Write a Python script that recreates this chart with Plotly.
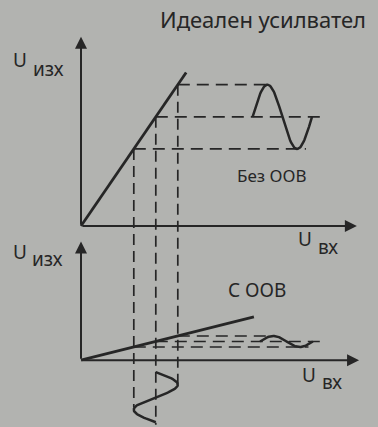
import numpy as np
import plotly.graph_objects as go

# Input signal levels (min, mid, max) on the U_вх axis
u_in = [1.2, 1.7, 2.2]
# Gain without feedback and with negative feedback (ООВ)
gain_open = 1.46
gain_fb = 0.25
# Distance from the upper graph's origin down to the lower one
panel_gap = 3.05

# Input value where each transfer line stops
line_end_open = 2.39
line_end_fb = 3.93

# Axis lengths [U_вх, U_изх] for each graph
axis_top = [6.27, 4.3]
axis_bottom = [6.32, 2.7]

# Output sine waves: start on the U_вх axis and period
wave_open = {"start": 3.9, "period": 1.35}
wave_fb = {"start": 4.07, "period": 1.2}
# Input sine wave, running downward under the lower graph
wave_in = {"start": -0.27, "period": 1.14}

# Text labels
title_text = "Идеален усилвател"
u_sym = "U"
out_sub = "изх"
in_sub = "вх"
label_open = "Без ООВ"
label_fb = "С ООВ"

INK = "#262626"
BG = "#b2b3b0"
FONT = "Noto Sans"

out_open = [gain_open * u for u in u_in]
out_fb = [-panel_gap + gain_fb * u for u in u_in]

fig = go.Figure()


def add_line(x, y, width=2.8, dash="solid"):
    fig.add_trace(go.Scatter(x=x, y=y, mode="lines",
                             line=dict(color=INK, width=width, dash=dash),
                             hoverinfo="skip"))


# Transfer characteristics
add_line([0, line_end_open], [0, gain_open * line_end_open])
add_line([0, line_end_fb], [-panel_gap, -panel_gap + gain_fb * line_end_fb])


def output_wave(levels, wave):
    mid = levels[1]
    amp = (levels[2] - levels[0]) / 2
    t = np.linspace(0, 1, 80)
    x = wave["start"] + wave["period"] * t
    y = mid + amp * np.sin(2 * np.pi * t)
    return x, y


def level_ends(wave):
    p, s = wave["period"], wave["start"]
    # low level, mid level, high level
    return [s + 0.75 * p + 0.2, s + p + 0.25, s + 0.25 * p]


# Projection lines from the transfer lines to the output waves
for levels, wave in ((out_open, wave_open), (out_fb, wave_fb)):
    ends = level_ends(wave)
    xs, ys = [], []
    for u, lvl, e in zip(u_in, levels, ends):
        xs += [u, e, None]
        ys += [lvl, lvl, None]
    add_line(xs, ys, width=1.7, dash="12px,7px")
    wx, wy = output_wave(levels, wave)
    add_line(wx, wy, width=2.5)

# Input wave: time runs downward, swinging between u_in[0] and u_in[2]
t = np.linspace(0, 1, 80)
in_amp = (u_in[2] - u_in[0]) / 2
in_x = u_in[1] + in_amp * np.sin(2 * np.pi * t)
in_y = -panel_gap + wave_in["start"] - wave_in["period"] * t
add_line(in_x, in_y, width=2.5)

# Vertical projection lines from the upper graph down to the input wave
in_low = [-panel_gap + wave_in["start"] - 0.7 * wave_in["period"],
          -panel_gap + wave_in["start"] - 1.05 * wave_in["period"],
          -panel_gap + wave_in["start"] - 0.25 * wave_in["period"]]
vx, vy = [], []
for u, top, bot in zip(u_in, out_open, in_low):
    vx += [u, u, None]
    vy += [top, bot, None]
add_line(vx, vy, width=1.7, dash="11px,6px")

annotations = []


def arrow(x0, y0, x1, y1):
    annotations.append(dict(x=x1, y=y1, ax=x0, ay=y0, xref="x", yref="y",
                            axref="x", ayref="y", text="", showarrow=True,
                            arrowhead=2, arrowsize=1.2, arrowwidth=2,
                            arrowcolor=INK))


# Axes of both graphs
arrow(0, 0, axis_top[0], 0)
arrow(0, 0, 0, axis_top[1])
arrow(0, -panel_gap, axis_bottom[0], -panel_gap)
arrow(0, -panel_gap, 0, -panel_gap + axis_bottom[1])


def label(text, x, y, size):
    annotations.append(dict(x=x, y=y, xref="x", yref="y", text=text,
                            showarrow=False, xanchor="center", yanchor="middle",
                            font=dict(family=FONT, size=size, color=INK)))


label(title_text, 4.13, 4.70, 22)
# U_изх of the upper graph
label(u_sym, -1.38, 3.77, 19)
label(out_sub, -0.73, 3.57, 19)
# U_вх of the upper graph
label(u_sym, 5.09, -0.30, 19)
label(in_sub, 5.62, -0.48, 19)
label(label_open, 4.32, 1.14, 17)
# U_изх of the lower graph
label(u_sym, -1.38, -0.59, 19)
label(out_sub, -0.77, -0.75, 19)
label(label_fb, 4.0, -1.45, 19)
# U_вх of the lower graph
label(u_sym, 5.18, -3.39, 19)
label(in_sub, 5.70, -3.55, 19)

fig.update_layout(
    width=378, height=427, autosize=False,
    margin=dict(l=0, r=0, t=0, b=0),
    paper_bgcolor=BG, plot_bgcolor=BG,
    showlegend=False,
    xaxis=dict(range=[-81 / 44, 297 / 44], visible=False, fixedrange=True),
    yaxis=dict(range=[-201 / 44, 226 / 44], visible=False, fixedrange=True),
    annotations=annotations,
)

fig.write_html("out.html", config={"displayModeBar": False})
